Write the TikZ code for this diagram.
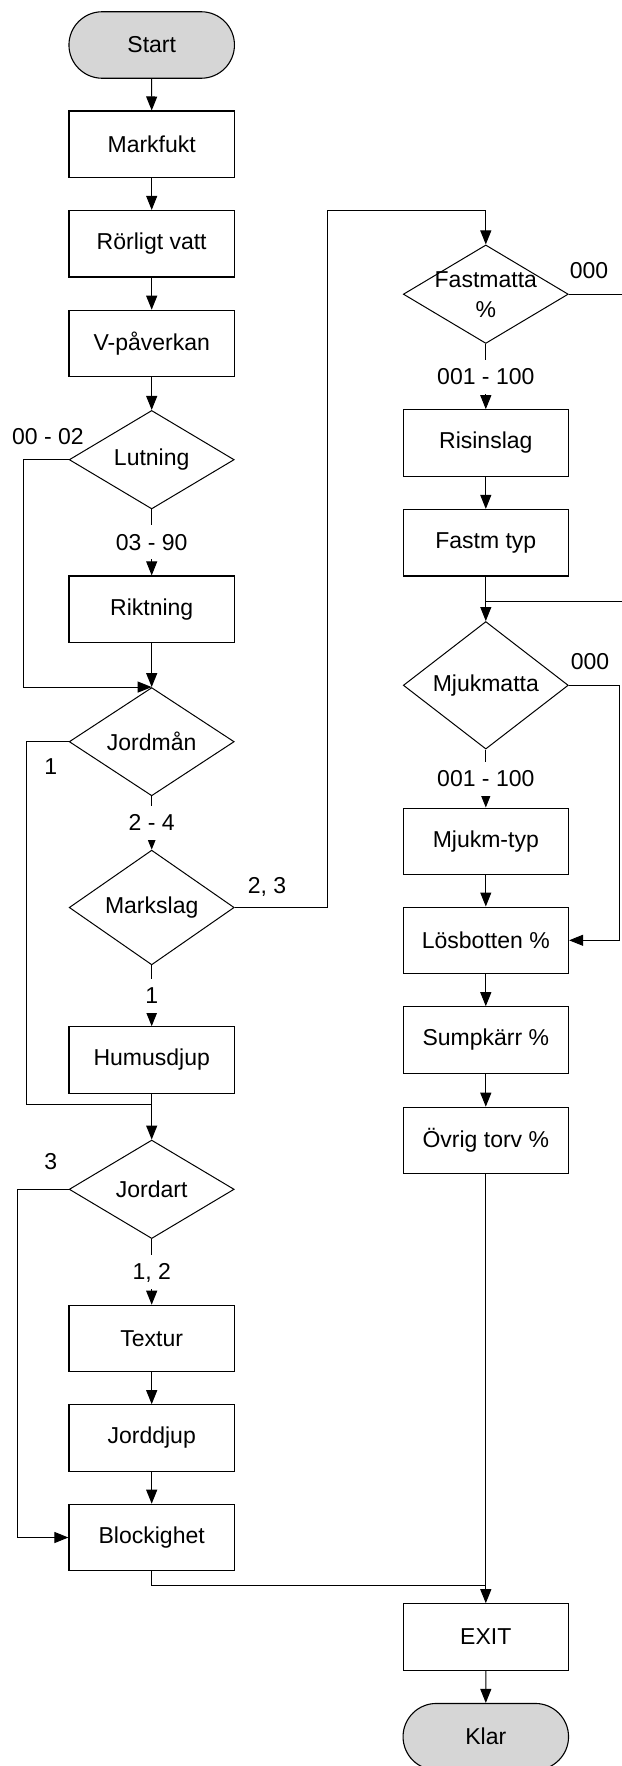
\documentclass[tikz,border=0pt]{standalone}
\usepackage{fontspec}
\setmainfont{Liberation Sans}
\usetikzlibrary{arrows.meta,shapes.geometric,shapes.misc}
\definecolor{termgray}{RGB}{214,214,214}
\begin{document}
\begin{tikzpicture}[x=1pt,y=-1pt,
	every node/.style={font=\fontsize{23}{30}\selectfont},
	box/.style={draw,line width=1.1pt,minimum width=165.5pt,minimum height=66.5pt,inner sep=0pt},
	decision/.style={draw,diamond,line width=1pt,minimum width=165pt,minimum height=98.5pt,inner sep=0pt},
	term/.style={draw,rounded rectangle,fill=termgray,line width=1.1pt,minimum width=165.5pt,minimum height=66.5pt,inner sep=0pt},
	gap/.style={midway,fill=white,text height=17pt,text depth=1pt,inner ysep=8pt,inner xsep=2pt},
	arr/.style={-{Triangle[length=14pt,width=11pt]}},
	line width=1pt]
			\useasboundingbox (0,0) rectangle (621,1766);
			% left column
			\node[term] (start) at (151.7,45) {Start};
			\node[box] (markf) at (151.7,144.3) {Markfukt};
			\node[box] (rorl) at (151.7,243.7) {Rörligt vatt};
			\node[box] (vpav) at (151.7,343.5) {V-påverkan};
			\node[decision] (lut) at (151.7,459.7) {Lutning};
			\node[box] (rikt) at (151.7,609.2) {Riktning};
			\node[decision] (jman) at (151.7,741.7) {Jordmån};
			\node[decision] (mslag) at (151.7,907.5) {Markslag};
			\node[box] (humus) at (151.7,1060) {Humusdjup};
			\node[decision] (jart) at (151.7,1189.3) {Jordart};
			\node[box] (textur) at (151.7,1338.5) {Textur};
			\node[box] (jdjup) at (151.7,1438) {Jorddjup};
			\node[box] (block) at (151.7,1537.5) {Blockighet};
			% right column
			\node[decision] (fast) at (485.8,294.2) {};
			\node[align=center,inner sep=0pt] (fastlbl) at (fast) {Fastmatta\\\%};
			\node[box] (ris) at (485.8,443) {Risinslag};
			\node[box] (ftyp) at (485.8,542.7) {Fastm typ};
			\node[decision] (mjuk) at (485.8,685.3) {Mjukmatta};
			\node[box] (mtyp) at (485.8,841.3) {Mjukm-typ};
			\node[box] (losb) at (485.8,940.3) {Lösbotten \%};
			\node[box] (sump) at (485.8,1040) {Sumpkärr \%};
			\node[box] (ovrig) at (485.8,1140.5) {Övrig torv \%};
			\node[box] (exit) at (485.8,1637) {EXIT};
			\node[term] (klar) at (485.8,1736.7) {Klar};
			% branch labels
			\node (l0002) at (48,436.5) {00 - 02};
			\node (ljman) at (50.8,766.7) {1};
			\node (lmslag) at (267,886.7) {2, 3};
			\node (ljart) at (50.8,1161.7) {3};
			\node (lfast) at (589,270.7) {000};
			\node (lmjuk) at (590,661.7) {000};
			\coordinate (hjoin) at (151.7,1104);
			\coordinate (ftop) at (485.8,210.7);
			\coordinate (mtop) at (485.8,601);
			\coordinate (ejoin) at (485.8,1585.7);
			% connectors
			\draw[arr] (start) -- (markf);
			\draw[arr] (markf) -- (rorl);
			\draw[arr] (rorl) -- (vpav);
			\draw[arr] (vpav) -- (lut);
			\draw[arr] (lut) -- node[gap]{03 - 90} (rikt);
			\draw[arr] (rikt) -- (jman);
			\draw[arr] (lut.west) -- ++(-45.7,0) |- (jman.north);
			\draw[arr] (jman) -- node[gap]{2 - 4} (mslag);
			\draw (jman.west) -- ++(-42,0) |- (hjoin);
			\draw[arr] (mslag) -- node[gap]{1} (humus);
			\draw[arr] (humus) -- (jart);
			\draw[arr] (mslag.east) -- ++(93,0) |- (ftop) -- (fast.north);
			\draw[arr] (jart) -- node[gap]{1, 2} (textur);
			\draw[arr] (textur) -- (jdjup);
			\draw[arr] (jdjup) -- (block);
			\draw[arr] (jart.west) -- ++(-51,0) |- (block.west);
			\draw (block.south) |- (ejoin);
			\draw[arr] (fast) -- node[gap]{001 - 100} (ris);
			\draw[arr] (ris) -- (ftyp);
			\draw[arr] (ftyp) -- (mjuk);
			\draw (fast.east) -- ++(72,0) |- (mtop);
			\draw[arr] (mjuk) -- node[gap]{001 - 100} (mtyp);
			\draw[arr] (mjuk.east) -- ++(51,0) |- (losb.east);
			\draw[arr] (mtyp) -- (losb);
			\draw[arr] (losb) -- (sump);
			\draw[arr] (sump) -- (ovrig);
			\draw[arr] (ovrig) -- (exit);
			\draw[arr] (exit) -- (klar);
\end{tikzpicture}
\end{document}
